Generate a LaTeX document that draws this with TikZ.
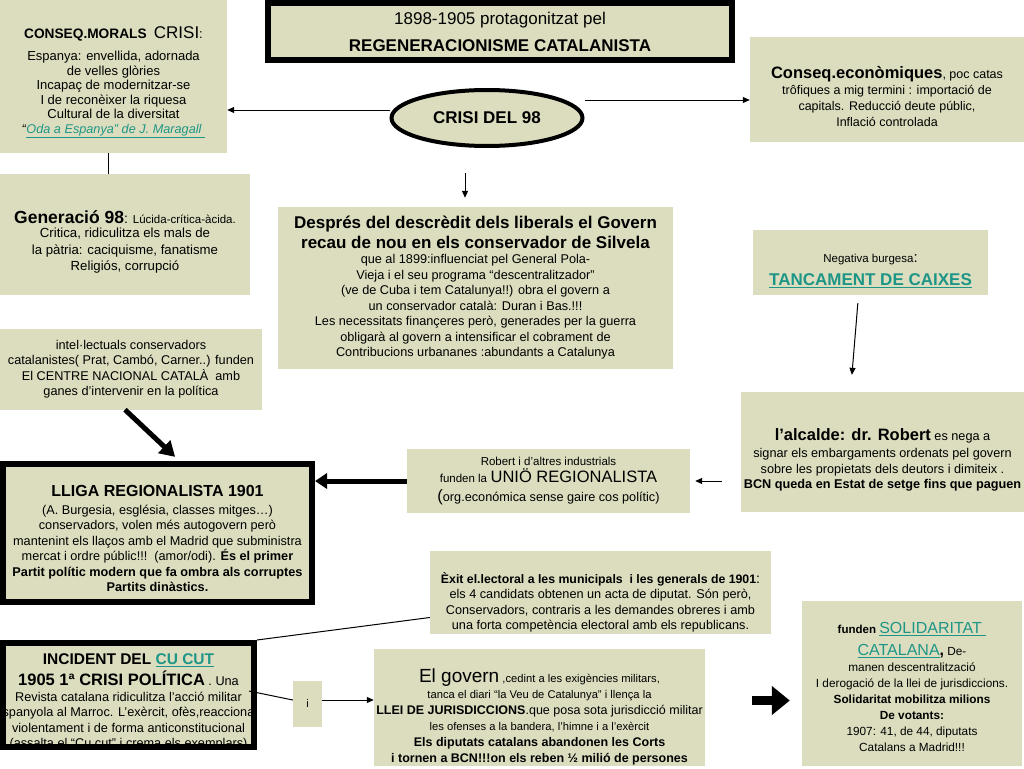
\documentclass[tikz,border=0pt]{standalone}
\usepackage{fontspec}
\setmainfont{Liberation Sans}
\usetikzlibrary{arrows.meta, positioning, shapes.geometric}

\definecolor{slidebeige}{RGB}{220,221,190}
\definecolor{linkteal}{RGB}{30,150,135}

\newcommand{\headtxt}[1]{{\fontsize{16.5}{19}\selectfont\bfseries #1}}
\newcommand{\smalltxt}[1]{{\fontsize{11.5}{14}\selectfont #1}}
\newcommand{\linktxt}[1]{\textcolor{linkteal}{\underline{#1}}}
\newcommand{\padtop}[1]{\\[#1]} % empty first line, pushes the text down a bit

\tikzset{
  >={Triangle[length=7pt,width=6pt]}, % small black arrow heads
  panel/.style={fill=slidebeige, align=center, inner sep=1pt,
    font=\fontsize{12.7}{15.5}\selectfont}, % the beige text boxes
  framed/.style={panel, draw=black, line width=6pt}, % boxes with a heavy frame
  link/.style={line width=1pt}, % plain connectors
  fatarrow/.style={line width=5pt, -{Triangle[length=15pt,width=17pt]}},
}

\begin{document}
\begin{tikzpicture}[x=1pt, y=-1pt]
  \useasboundingbox (0,0) rectangle (1024,768);

  % top row
  \node[framed, minimum width=464pt, minimum height=57pt,
    font=\fontsize{17}{27}\selectfont] (banner) at (500,31.5)
    {1898-1905 protagonitzat pel\\ \textbf{REGENERACIONISME CATALANISTA}};
  \node[ellipse, fill=slidebeige, draw=black, line width=4pt,
    minimum width=191pt, minimum height=56pt,
    font=\fontsize{17}{19}\selectfont\bfseries] (crisi) at (487,118) {CRISI DEL 98};
  \node[panel, minimum width=227pt, minimum height=153pt,
    font=\fontsize{13}{14.5}\selectfont] (conseq_morals) at (113.5,76.5)
    {\padtop{9pt}
     {\fontsize{13.7}{16}\selectfont\bfseries CONSEQ.MORALS}\ \ {\fontsize{17}{18}\selectfont CRISI}:\\[8pt]
     Espanya: envellida, adornada\\
     de velles glòries\\
     Incapaç de modernitzar-se\\
     I de reconèixer la riquesa\\
     Cultural de la diversitat\\
     {\fontsize{12.7}{14}\selectfont\textit{“}\linktxt{\textit{Oda a Espanya” de J. Maragall\ }}}};
  \node[panel, minimum width=274pt, minimum height=105pt,
    font=\fontsize{12.5}{16}\selectfont] (conseq_econ) at (887,89.5)
    {\padtop{10pt}
     \headtxt{Conseq.econòmiques}, poc catas\\
     trôfiques a mig termini : importació de\\
     capitals. Reducció deute públic,\\
     Inflació controlada};

  % second row
  \node[panel, minimum width=250pt, minimum height=121pt,
    font=\fontsize{13.2}{16.5}\selectfont] (generacio) at (125,234.5)
    {\padtop{11pt}
     {\fontsize{17.5}{19}\selectfont\bfseries Generació 98}{\fontsize{14}{15}\selectfont:} \smalltxt{Lúcida-crítica-àcida.}\\[-2pt]
     Critica, ridiculitza els mals de\\
     la pàtria: caciquisme, fanatisme\\
     Religiós, corrupció};
  \node[panel, minimum width=395pt, minimum height=162pt] (descredit) at (475.5,288)
    {{\fontsize{17}{19}\selectfont\bfseries Després del descrèdit dels liberals el Govern}\\[2.5pt]
     {\fontsize{17}{19}\selectfont\bfseries recau de nou en els conservador de Silvela}\\
     que al 1899:influenciat pel General Pola-\\
     Vieja i el seu programa “descentralitzador”\\
     (ve de Cuba i tem Catalunya!!) obra el govern a\\
     un conservador català: Duran i Bas.!!!\\
     Les necessitats finançeres però, generades per la guerra\\
     obligarà al govern a intensificar el cobrament de\\
     Contribucions urbananes :abundants a Catalunya};
  \node[panel, minimum width=235pt, minimum height=65pt] (negativa) at (870.5,262.5)
    {\padtop{10pt}
     \smalltxt{Negativa burgesa}{\fontsize{15}{16}\selectfont:}\\[7pt]
     \linktxt{\fontsize{17}{18}\selectfont\bfseries TANCAMENT DE CAIXES}};
  \node[panel, minimum width=262pt, minimum height=81pt] (intel) at (131,369)
    {intel·lectuals conservadors\\
     catalanistes( Prat, Cambó, Carner..) funden\\
     El CENTRE NACIONAL CATALÀ\ \ amb\\
     ganes d’intervenir en la política};

  % third row
  \node[panel, minimum width=283pt, minimum height=120pt] (alcalde) at (882.5,452)
    {\padtop{12.5pt}
     \headtxt{l’alcalde: dr. Robert} es nega a\\[2pt]
     signar els embargaments ordenats pel govern\\
     sobre les propietats dels deutors i dimiteix .\\
     \textbf{BCN queda en Estat de setge fins que paguen}};
  \node[panel, minimum width=283pt, minimum height=64pt] (robert) at (548.5,481)
    {\smalltxt{Robert i d’altres industrials}\\[2pt]
     \smalltxt{funden la} {\fontsize{16.5}{18}\selectfont UNIÖ REGIONALISTA}\\[3pt]
     {\fontsize{16.5}{18}\selectfont(}org.económica sense gaire cos polític)};
  \node[framed, minimum width=309pt, minimum height=138pt] (lliga) at (157.5,533)
    {\padtop{7pt}
     {\fontsize{16}{19}\selectfont\bfseries LLIGA REGIONALISTA 1901}\\[2pt]
     (A. Burgesia, església, classes mitges…)\\
     conservadors, volen més autogovern però\\
     mantenint els llaços amb el Madrid que subministra\\
     mercat i ordre públic!!!\ \ (amor/odi). \textbf{És el primer}\\
     \textbf{Partit polític modern que fa ombra als corruptes}\\
     \textbf{Partits dinàstics.}};
  \node[panel, minimum width=341pt, minimum height=81pt] (exit) at (600.5,592.5)
    {\padtop{15.5pt}
     {\fontsize{12.3}{15}\selectfont\bfseries Èxit el.lectoral a les municipals\ \ i les generals de 1901}{\fontsize{14}{15}\selectfont:}\\
     els 4 candidats obtenen un acta de diputat. Són però,\\
     Conservadors, contraris a les demandes obreres i amb\\
     una forta competència electoral amb els republicans.};

  % bottom row
  \node[framed, outer sep=0pt, minimum width=251pt, minimum height=104pt] (incident) at (128.5,695) {};
  \begin{scope}
    \clip (incident.south west) rectangle (incident.north east);
    \node[align=center, inner sep=0pt, font=\fontsize{12.7}{15.5}\selectfont] (incident_txt) at (128.5,702)
      {{\fontsize{15.5}{18}\selectfont\bfseries INCIDENT DEL \linktxt{CU CUT}}\\[4pt]
       \headtxt{1905 1ª CRISI POLÍTICA} . Una\\
       Revista catalana ridiculitza l’acció militar\\
       spanyola al Marroc. L’exèrcit, ofès,reacciona\\
       violentament i de forma anticonstitucional\\
       (assalta el “Cu cut” i crema els exemplars)};
  \end{scope}
  \draw[line width=6pt] (incident.south west) rectangle (incident.north east);
  \node[panel, minimum width=29pt, minimum height=46pt,
    font=\fontsize{11}{13}\selectfont] (i_box) at (307.5,704) {i};
  \node[panel, minimum width=331pt, minimum height=115pt,
    font=\fontsize{11.2}{16}\selectfont] (govern) at (539.5,707.5)
    {\padtop{16pt}
     {\fontsize{19}{20}\selectfont El govern} ,cedint a les exigències militars,\\
     tanca el diari “la Veu de Catalunya” i llença la\\
     {\fontsize{12.5}{15}\selectfont\bfseries LLEI DE JURISDICCIONS}{\fontsize{12.5}{15}\selectfont.que posa sota jurisdicció militar}\\
     les ofenses a la bandera, l’himne i a l’exèrcit\\
     {\fontsize{12.5}{15}\selectfont\bfseries Els diputats catalans abandonen les Corts}\\
     {\fontsize{12.5}{15}\selectfont\bfseries i tornen a BCN!!!on els reben ½ milió de persones}};
  \node[panel, minimum width=220pt, minimum height=165pt,
    font=\fontsize{11.8}{16}\selectfont] (solidaritat) at (912,683.5)
    {\padtop{2pt}
     {\fontsize{11.5}{13}\selectfont\bfseries funden} \linktxt{\fontsize{16}{18}\selectfont SOLIDARITAT\ }\\[6pt]
     \linktxt{\fontsize{16}{18}\selectfont CATALANA}{\fontsize{16}{18}\selectfont\bfseries ,} De-\\
     manen descentralització\\
     I derogació de la llei de jurisdiccions.\\
     \textbf{Solidaritat mobilitza milions}\\
     \textbf{De votants:}\\
     1907: 41, de 44, diputats\\
     Catalans a Madrid!!!};

  % connectors
  \draw[link,->] ([yshift=8pt]crisi.west) -- ([yshift=8pt]crisi.west -| conseq_morals.east);
  \draw[link,->] ([yshift=18pt]crisi.east) -- ([yshift=18pt]crisi.east -| conseq_econ.west);
  \draw[link] ([xshift=-5pt]conseq_morals.south) -- ([xshift=-5pt]conseq_morals.south |- generacio.north);
  \coordinate (crisi_tail) at (465,173);
  \draw[link,->, shorten >=9pt] (crisi_tail) -- (crisi_tail |- descredit.north);
  \draw[link,->, shorten <=8pt, shorten >=17pt] ([xshift=-12pt]negativa.south) -- ([xshift=-32pt]alcalde.north);
  \draw[link,->, shorten <=19pt, shorten >=5pt] (alcalde.west |- robert.east) -- (robert.east);
  \draw[fatarrow, -{Triangle[length=12pt,width=15pt]}] (robert.west) -- (robert.west -| lliga.east);
  \draw[fatarrow, shorten >=6pt] ([xshift=-6pt]intel.south) -- ([xshift=22pt]lliga.north);
  \draw[link] ([yshift=-25pt]exit.west) -- ([xshift=3pt,yshift=3pt]incident.north east);
  \draw[link] ([xshift=-5pt,yshift=4pt]incident.east) -- ([yshift=4pt]i_box.west);
  \draw[link,->] ([yshift=4pt]i_box.east) -- ([yshift=4pt]i_box.east -| govern.west);
  \draw[line width=9pt, -{Triangle[length=18pt,width=28pt]}, shorten <=47pt, shorten >=12pt]
    ([yshift=7pt]govern.east) -- ([yshift=7pt]govern.east -| solidaritat.west);
\end{tikzpicture}
\end{document}
